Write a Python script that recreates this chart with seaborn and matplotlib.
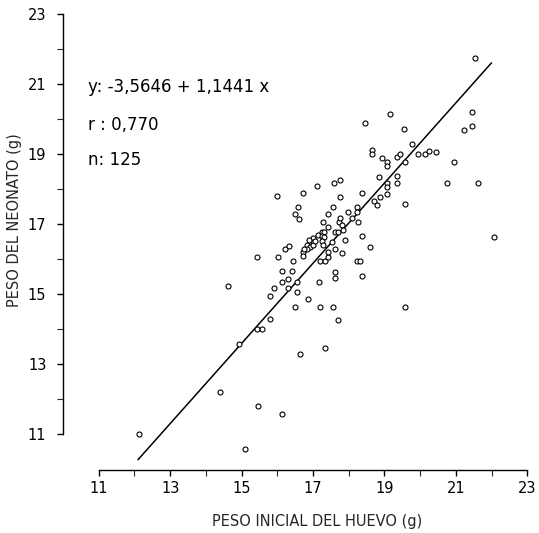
import matplotlib
matplotlib.use("Agg")
import matplotlib.pyplot as plt
import seaborn as sns
import numpy as np
import pandas as pd

sns.set_theme(style="ticks")
plt.rcParams['font.family'] = ['DejaVu Sans']

# Egg weight (g) -> hatchling weight (g)
peso_huevo = [
    12.12, 14.61, 14.92, 15.42, 15.56, 14.41, 15.45, 15.11, 16.12, 16.65,
    17.35, 16.51, 16.85, 17.21, 17.55, 17.71, 15.81, 19.59, 15.81, 16.12,
    16.40, 16.12, 16.31, 16.54, 15.92, 16.31, 16.54, 17.18, 17.63, 17.63,
    18.38, 16.43, 17.21, 17.35, 18.22, 18.33, 17.41, 17.43, 17.63, 17.80,
    17.52, 17.91, 18.38, 18.61, 15.42, 16.01, 16.23, 16.34, 16.71, 16.71,
    16.82, 16.93, 16.82, 16.99, 16.99, 16.99, 17.13, 17.24, 17.32, 17.24,
    17.32, 17.24, 17.29, 17.63, 17.71, 17.74, 17.77, 17.80, 17.29, 18.10,
    18.27, 18.24, 18.24, 17.99, 17.57, 17.43, 16.57, 16.51, 16.62, 15.98,
    16.71, 17.10, 17.60, 17.77, 17.77, 18.38, 18.72, 18.78, 18.89, 19.08,
    19.06, 19.08, 18.86, 19.36, 19.36, 19.59, 18.66, 18.66, 18.94, 19.08,
    19.08, 19.36, 19.45, 19.59, 19.76, 19.95, 20.15, 20.26, 20.45, 20.96,
    20.76, 21.63, 22.08, 18.47, 19.17, 19.56, 21.24, 21.46, 21.46, 21.55,
    16.76, 16.90, 17.07, 17.41, 17.85,
]
peso_neonato = [
    11.01, 15.24, 13.59, 14.01, 14.01, 12.21, 11.81, 10.59, 11.59, 13.30,
    13.47, 14.64, 14.87, 14.64, 14.64, 14.27, 14.30, 14.64, 14.96, 15.67,
    15.67, 15.36, 15.44, 15.36, 15.19, 15.19, 15.07, 15.36, 15.64, 15.47,
    15.53, 15.96, 15.96, 15.96, 15.96, 15.96, 16.07, 16.21, 16.30, 16.19,
    16.50, 16.56, 16.67, 16.36, 16.07, 16.07, 16.30, 16.39, 16.21, 16.10,
    16.41, 16.36, 16.30, 16.61, 16.50, 16.41, 16.70, 16.79, 16.79, 16.67,
    16.64, 16.53, 16.41, 16.79, 16.79, 17.07, 17.19, 16.99, 17.07, 17.19,
    17.07, 17.50, 17.36, 17.36, 17.50, 17.30, 17.50, 17.30, 17.16, 17.81,
    17.90, 18.10, 18.19, 18.27, 17.79, 17.90, 17.67, 17.56, 17.79, 17.87,
    18.19, 18.07, 18.36, 18.39, 18.19, 17.59, 19.13, 19.01, 18.90, 18.79,
    18.67, 18.93, 19.01, 18.79, 19.30, 19.01, 19.01, 19.10, 19.07, 18.79,
    18.19, 18.19, 16.64, 19.90, 20.16, 19.73, 19.70, 19.81, 20.21, 21.73,
    16.30, 16.56, 16.53, 16.93, 16.84,
]

# Regression reported on the chart
intercepto = -3.5646
pendiente = 1.1441
r_valor = "0,770"
n_valor = 125
linea_x = [12.1, 22.0]

x_ticks = [11, 13, 15, 17, 19, 21, 23]
y_ticks = [11, 13, 15, 17, 19, 21, 23]

df = pd.DataFrame({"huevo": peso_huevo, "neonato": peso_neonato})
linea = pd.DataFrame({"x": linea_x,
                      "y": [intercepto + pendiente * v for v in linea_x]})

fig = plt.figure(figsize=(5.39, 5.33), dpi=100)
ax = fig.add_axes([63 / 539, (533 - 469.5) / 533, (529 - 63) / 539, (469.5 - 14) / 533])

sns.lineplot(data=linea, x="x", y="y", ax=ax, color="black", linewidth=1.1)
sns.scatterplot(data=df, x="huevo", y="neonato", ax=ax, marker="o", s=13,
                facecolor="white", edgecolor="black", linewidth=0.8, zorder=3)

ax.set_xlim(10, 23.05)
ax.set_ylim(10, 23)
ax.set_xticks(x_ticks)
ax.set_yticks(y_ticks)
ax.set_xticks(np.arange(12, 23, 2), minor=True)
ax.set_yticks(np.arange(12, 23, 2), minor=True)
ax.set_xticklabels([str(t) for t in x_ticks])
ax.set_yticklabels([str(t) for t in y_ticks])

sns.despine(ax=ax)
ax.spines['left'].set_bounds(11, 23)
ax.spines['bottom'].set_bounds(11, 23)
for s in ('left', 'bottom'):
    ax.spines[s].set_linewidth(1.0)
    ax.spines[s].set_color('black')

ax.tick_params(axis='both', which='major', direction='out', length=4, width=1,
               labelsize=10.5, colors='black')
ax.tick_params(axis='both', which='minor', direction='out', length=4, width=0.8)
ax.tick_params(axis='y', which='major', pad=8)
ax.tick_params(axis='x', which='major', pad=4)

ax.set_xlabel("PESO INICIAL DEL HUEVO (g)", fontsize=10.5)
ax.set_ylabel("PESO DEL NEONATO (g)", fontsize=10.5)
ax.xaxis.set_label_coords(0.545, -0.098)
ax.yaxis.set_label_coords(-0.088, 0.548)

txt_kw = dict(fontsize=12, ha='left', va='baseline', color='black')
ax.text(10.69, 20.76, "y: -3,5646 + 1,1441 x", **txt_kw)
ax.text(10.69, 19.70, f"r : {r_valor}", **txt_kw)
ax.text(10.69, 18.70, f"n: {n_valor}", **txt_kw)

fig.savefig("out.png", dpi=100)
